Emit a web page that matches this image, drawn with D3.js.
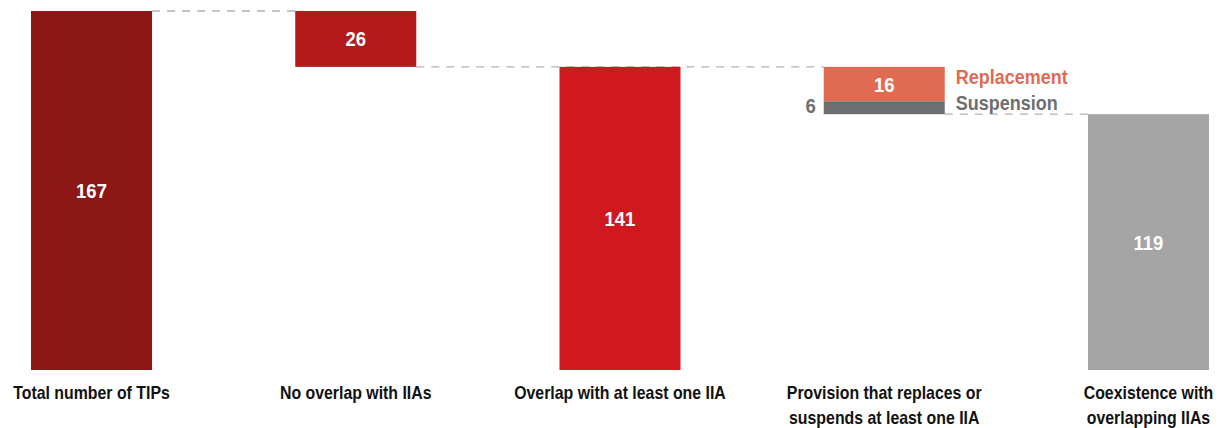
<!DOCTYPE html>
<html><head><meta charset="utf-8">
<script src="https://cdn.jsdelivr.net/npm/d3@7"></script>
<style>
body{margin:0;background:#fff;}
svg{display:block;font-family:"Liberation Sans","Arial",sans-serif;}
</style></head><body>
<svg id="c" width="1222" height="428"></svg>
<script>
const categories = ["Total number of TIPs","No overlap with IIAs","Overlap with at least one IIA","Provision that replaces or|suspends at least one IIA","Coexistence with|overlapping IIAs"];
const totals = [167, 26, 141, 22, 119];
// segments: category index, start value, end value, label, colour
const segCat   = [0, 1, 2, 3, 3, 4];
const segStart = [0, 141, 0, 125, 119, 0];
const segEnd   = [167, 167, 141, 141, 125, 119];
const segLabel = ["167", "26", "141", "16", "6", "119"];
const segColor = ["#8c1716", "#b51a1a", "#d0191f", "#e06b53", "#6d6e70", "#a5a5a5"];
const legendNames = ["Replacement", "Suspension"];

const svg = d3.select("#c");
const x = d3.scaleBand().domain(categories).range([31, 1209]).paddingInner(0.542).paddingOuter(0);
const y = d3.scaleLinear().domain([0, 167]).range([370, 11]);

// horizontally condense text around its anchor point
function squeeze(sel, k, ax) {
  sel.attr("transform", function(d, i){ const a = ax(d, i); return `translate(${a},0) scale(${k},1) translate(${-a},0)`; });
}

const connectors = [[0, 1, 167], [1, 3, 141], [3, 4, 119]];
svg.selectAll("line.conn").data(connectors).enter().append("line")
  .attr("x1", d => x(categories[d[0]]) + x.bandwidth())
  .attr("x2", d => x(categories[d[1]]))
  .attr("y1", d => y(d[2])).attr("y2", d => y(d[2]))
  .attr("stroke", "#b3b3b3").attr("stroke-width", 1.3).attr("stroke-dasharray", "8,7");

const idx = d3.range(segCat.length);
svg.selectAll("rect.bar").data(idx).enter().append("rect")
  .attr("x", i => x(categories[segCat[i]]))
  .attr("width", x.bandwidth())
  .attr("y", i => y(segEnd[i]))
  .attr("height", i => y(segStart[i]) - y(segEnd[i]))
  .attr("fill", i => segColor[i]);

const valX = i => i === 4 ? x(categories[segCat[i]]) - 8 : x(categories[segCat[i]]) + x.bandwidth() / 2;
const vals = svg.selectAll("text.val").data(idx).enter().append("text")
  .attr("x", valX)
  .attr("y", i => (y(segStart[i]) + y(segEnd[i])) / 2 - (i === 4 ? 2 : 0))
  .attr("dy", "0.36em")
  .attr("text-anchor", i => i === 4 ? "end" : "middle")
  .attr("fill", i => i === 4 ? "#6d6e70" : "#fff")
  .attr("font-weight", "bold").attr("font-size", 21)
  .text(i => segLabel[i]);
squeeze(vals, 0.88, (d) => valX(d));

const lx = x(categories[3]) + x.bandwidth() + 11;
const leg = svg.selectAll("text.leg").data(legendNames).enter().append("text")
  .attr("x", lx).attr("y", (d, i) => i === 0 ? y(141) + 17 : y(125) + 9)
  .attr("fill", (d, i) => i === 0 ? "#e06b53" : "#6d6e70")
  .attr("font-weight", "bold").attr("font-size", 20).text(d => d);
squeeze(leg, 0.9, () => lx);

const cx = d => x(d) + x.bandwidth() / 2;
const cl = svg.selectAll("text.cat").data(categories).enter().append("text")
  .attr("x", cx).attr("y", 399)
  .attr("text-anchor", "middle").attr("font-weight", "bold").attr("font-size", 19).attr("fill", "#111");
cl.each(function(d){
  const parts = d.split("|");
  d3.select(this).selectAll("tspan").data(parts).enter().append("tspan")
    .attr("x", cx(d)).attr("dy", (p, j) => j === 0 ? 0 : 25).text(p => p);
});
squeeze(cl, 0.835, cx);
</script></body></html>
